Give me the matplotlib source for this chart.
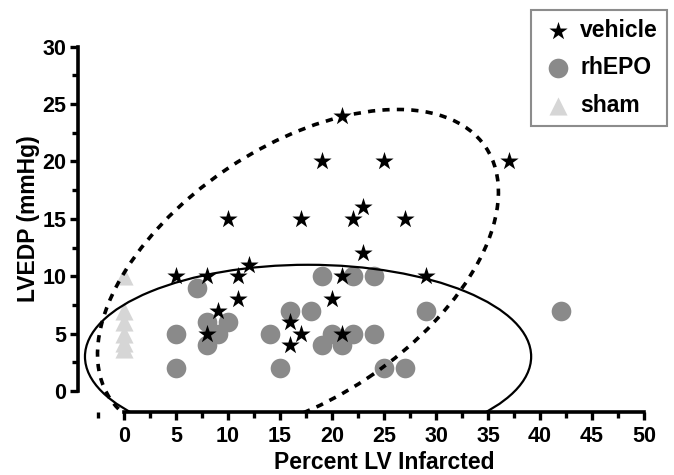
import matplotlib
matplotlib.use("Agg")
import matplotlib.pyplot as plt
from matplotlib.patches import Ellipse
from matplotlib.transforms import Affine2D
from matplotlib.ticker import MultipleLocator

# data
vehicle_x = [5, 8, 11, 12, 11, 9, 8, 10, 17, 19, 21, 22, 23, 25, 27, 37, 23, 21, 20, 16, 17, 16, 21, 29]
vehicle_y = [10, 10, 10, 11, 8, 7, 5, 15, 15, 20, 24, 15, 16, 20, 15, 20, 12, 10, 8, 6, 5, 4, 5, 10]

epo_x = [7, 5, 5, 8, 10, 9, 8, 14, 15, 16, 18, 19, 19, 20, 21, 22, 22, 24, 24, 25, 27, 29, 42]
epo_y = [9, 5, 2, 6, 6, 5, 4, 5, 2, 7, 7, 10, 4, 5, 4, 10, 5, 10, 5, 2, 2, 7, 7]

sham_x = [0, 0, 0, 0, 0, 0]
sham_y = [10, 7, 6, 5, 4.2, 3.7]

# hand drawn group outlines (data units)
solid_center, solid_w, solid_h = (17.7, 3.0), 42.9, 16.0
# dotted one is tilted on screen, so it is given in reference pixels
SX, SY = 10.4, 11.48
dot_center, dot_w, dot_h, dot_angle = (16.73, 10.28), 452, 252, 33.8

plt.rcParams['font.family'] = ['Liberation Sans', 'DejaVu Sans']
plt.rcParams['font.weight'] = 'bold'

fig = plt.figure(figsize=(6.74, 4.75), dpi=100)
ax = fig.add_axes([78 / 674, 63.3 / 475, 566 / 674, 365 / 475])

ax.scatter(vehicle_x, vehicle_y, marker='*', s=190, color='black', linewidths=0, zorder=4, label='vehicle')
ax.scatter(epo_x, epo_y, marker='o', s=200, color='#8a8a8a', linewidths=0, zorder=3, label='rhEPO')
ax.scatter(sham_x, sham_y, marker='^', s=170, color='#d6d6d6', linewidths=0, zorder=2, label='sham')

ax.add_patch(Ellipse(solid_center, solid_w, solid_h, fill=False, lw=1.6, color='black', zorder=5))
scale = Affine2D().scale(1 / SX, 1 / SY)
ax.add_patch(Ellipse((dot_center[0] * SX, dot_center[1] * SY), dot_w, dot_h, angle=dot_angle,
                     fill=False, lw=2.6, color='black', linestyle=(0, (2.0, 2.0)),
                     transform=scale + ax.transData, zorder=5))

ax.set_xlim(-4.42, 50)
ax.set_ylim(-1.8, 30)
for s in ['top', 'right']:
    ax.spines[s].set_visible(False)
ax.spines['left'].set_bounds(0, 30)
ax.spines['bottom'].set_bounds(0, 50)
for s in ['left', 'bottom']:
    ax.spines[s].set_linewidth(2.6)

ax.xaxis.set_minor_locator(MultipleLocator(2.5))
ax.yaxis.set_minor_locator(MultipleLocator(2.5))
ax.set_xticks(range(0, 51, 5))
ax.set_yticks(range(0, 31, 5))
ax.tick_params(which='major', length=6, width=2.4, labelsize=15.5, pad=2.5)
ax.tick_params(axis='x', which='major', pad=4)
ax.tick_params(which='minor', length=4, width=2.4)

ax.set_xlabel('Percent LV Infarcted', fontsize=16.5, fontweight='bold')
ax.set_ylabel('LVEDP (mmHg)', fontsize=16.5, fontweight='bold')
ax.xaxis.set_label_coords((384 - 78) / 566, -0.108)
ax.yaxis.set_label_coords(-0.068, (411.7 - 219) / 365)

leg = ax.legend(loc='upper right', bbox_to_anchor=(667 / 674, 1 - 10 / 475),
                bbox_transform=fig.transFigure, borderaxespad=0, fancybox=False,
                edgecolor='#707070', fontsize=16.5, handletextpad=0.15, labelspacing=0.62,
                borderpad=0.4, handlelength=1.6, scatterpoints=1)
leg.get_frame().set_linewidth(1.5)

fig.savefig('out.png', dpi=100)
